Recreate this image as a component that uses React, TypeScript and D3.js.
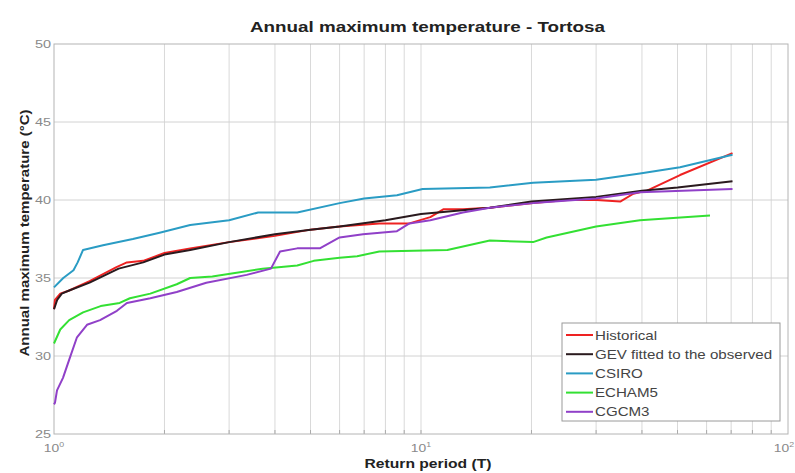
import * as d3 from "d3";

type Pt = [number, number];

// [return period T, temperature °C]
const historical: Pt[] = [
  [1.0, 33.0], [1.006, 33.6], [1.04, 34.0], [1.1, 34.2], [1.25, 34.8], [1.48, 35.7],
  [1.58, 36.0], [1.75, 36.1], [2.0, 36.6], [2.35, 36.9], [3.0, 37.3], [4.0, 37.7],
  [5.0, 38.1], [6.0, 38.3], [7.7, 38.5], [9.3, 38.5], [10.6, 38.9], [11.5, 39.4],
  [13.0, 39.4], [15.4, 39.5], [20.2, 39.8], [25, 40.0], [30.1, 40.0], [34.9, 39.9],
  [37.9, 40.4], [41.3, 40.6], [50.8, 41.6], [70.6, 43.0],
];

const gevFitted: Pt[] = [
  [1.0, 33.0], [1.02, 33.6], [1.05, 34.0], [1.1, 34.2], [1.25, 34.7], [1.5, 35.6],
  [1.75, 36.0], [2.0, 36.5], [2.35, 36.8], [3.0, 37.3], [4.0, 37.8], [5.0, 38.1],
  [6.0, 38.3], [8.0, 38.7], [10, 39.1], [15.4, 39.5], [20, 39.9], [30, 40.2],
  [40, 40.6], [50, 40.8], [70.6, 41.2],
];

const csiro: Pt[] = [
  [1.0, 34.4], [1.06, 35.0], [1.13, 35.5], [1.16, 36.0], [1.2, 36.8], [1.36, 37.1],
  [1.64, 37.5], [1.94, 37.9], [2.35, 38.4], [3.0, 38.7], [3.6, 39.2], [4.6, 39.2],
  [6.0, 39.8], [7.0, 40.1], [8.6, 40.3], [10.1, 40.7], [15.4, 40.8], [20.2, 41.1],
  [30, 41.3], [39.5, 41.7], [50.8, 42.1], [70.6, 42.9],
];

const echam5: Pt[] = [
  [1.0, 30.8], [1.04, 31.7], [1.1, 32.3], [1.2, 32.8], [1.34, 33.2], [1.51, 33.4],
  [1.61, 33.7], [1.83, 34.0], [2.16, 34.6], [2.35, 35.0], [2.7, 35.1], [3.7, 35.6],
  [4.6, 35.8], [5.1, 36.1], [6.0, 36.3], [6.7, 36.4], [7.7, 36.7], [11.8, 36.8],
  [15.4, 37.4], [20.2, 37.3], [22, 37.6], [30, 38.3], [39.5, 38.7], [61.3, 39.0],
];

const cgcm3: Pt[] = [
  [1.0, 26.9], [1.006, 27.0], [1.019, 27.8], [1.058, 28.6], [1.105, 29.9], [1.155, 31.2],
  [1.23, 32.0], [1.335, 32.3], [1.484, 32.9], [1.58, 33.4], [1.83, 33.7], [2.16, 34.1],
  [2.6, 34.7], [3.35, 35.2], [3.9, 35.6], [4.13, 36.7], [4.6, 36.9], [5.3, 36.9],
  [6.0, 37.6], [6.95, 37.8], [8.6, 38.0], [9.3, 38.5], [10.6, 38.7], [13.0, 39.2],
  [15.4, 39.5], [20.2, 39.8], [30, 40.1], [39.5, 40.5], [70.6, 40.7],
];

const seriesNames = ["Historical", "GEV fitted to the observed", "CSIRO", "ECHAM5", "CGCM3"];
const seriesData = [historical, gevFitted, csiro, echam5, cgcm3];
const seriesColors = ["#ee2222", "#2a1a1e", "#2a9cc4", "#33e033", "#9040c8"];

const yTicks = [25, 30, 35, 40, 45, 50];
const xDecades = [0, 1, 2];

export default function App() {
  const width = 795;
  const height = 473;
  const left = 54;
  const right = 788;
  const top = 44;
  const bottom = 434;

  const x = d3.scaleLog().domain([1, 100]).range([left, right]);
  const y = d3.scaleLinear().domain([25, 50]).range([bottom, top]);

  const line = d3
    .line<Pt>()
    .x((d) => x(d[0]))
    .y((d) => y(d[1]));

  const minorTicks = x.ticks().filter((t) => t > 1 && t < 100);

  const font = "'Liberation Sans', Arial, sans-serif";
  const legendX = 562;
  const legendY = 323;
  const rowH = 19.2;
  // the source picture is stretched sideways a little
  const sx = 1.26;

  return (
    <svg
      width={width}
      height={height}
      style={{ position: "absolute", left: 0, top: 0, background: "#fff" }}
      fontFamily={font}
    >
      <g>
        {minorTicks.map((t) => (
          <line key={`vx${t}`} x1={x(t)} x2={x(t)} y1={top} y2={bottom} stroke="#d9d9d9" strokeWidth={1} />
        ))}
        {yTicks.slice(1, -1).map((t) => (
          <line key={`hy${t}`} x1={left} x2={right} y1={y(t)} y2={y(t)} stroke="#d2d2d2" strokeWidth={1} />
        ))}
        {minorTicks.map((t) => (
          <line key={`tk${t}`} x1={x(t)} x2={x(t)} y1={bottom} y2={bottom - 4} stroke="#aaa" strokeWidth={1} />
        ))}
      </g>
      <rect x={left} y={top} width={right - left} height={bottom - top} fill="none" stroke="#b4b4b4" strokeWidth={1} />

      {yTicks.map((t) => (
        <text
          key={`yt${t}`}
          transform={`translate(${left - 3},${y(t) + 4}) scale(${sx},1)`}
          textAnchor="end"
          fontSize={11.5}
          fill="#8a8a8a"
        >
          {t}
        </text>
      ))}
      {xDecades.map((e) => {
        const px = Math.min(x(Math.pow(10, e)), width - 11);
        return (
          <text
            key={`xt${e}`}
            transform={`translate(${px},452) scale(${sx},1)`}
            textAnchor="middle"
            fontSize={11}
            fill="#8a8a8a"
          >
            10
            <tspan dy={-5} fontSize={7}>
              {e}
            </tspan>
          </text>
        );
      })}

      {seriesData.map((data, i) => (
        <path
          key={seriesNames[i]}
          d={line(data) ?? ""}
          fill="none"
          stroke={seriesColors[i]}
          strokeWidth={2}
          strokeLinejoin="round"
        />
      ))}

      <text
        x={427.5}
        y={32}
        textAnchor="middle"
        fontSize={15}
        fontWeight="bold"
        fill="#222"
        textLength={355}
        lengthAdjust="spacingAndGlyphs"
      >
        Annual maximum temperature - Tortosa
      </text>
      <text
        x={428}
        y={468}
        textAnchor="middle"
        fontSize={13}
        fontWeight="bold"
        fill="#222"
        textLength={127}
        lengthAdjust="spacingAndGlyphs"
      >
        Return period (T)
      </text>
      <text
        transform="translate(29,233) rotate(-90)"
        textAnchor="middle"
        fontSize={13}
        fontWeight="bold"
        fill="#222"
        textLength={247}
        lengthAdjust="spacingAndGlyphs"
      >
        Annual maximum temperature (°C)
      </text>

      <g>
        <rect x={legendX} y={legendY} width={218} height={98} fill="#fff" stroke="#9a9a9a" strokeWidth={1} />
        {seriesNames.map((name, i) => {
          const ry = legendY + 12 + i * rowH;
          return (
            <g key={`lg${name}`}>
              <line x1={legendX + 4} x2={legendX + 31} y1={ry} y2={ry} stroke={seriesColors[i]} strokeWidth={2} />
              <text
                transform={`translate(${legendX + 33},${ry + 4.5}) scale(${sx},1)`}
                fontSize={12}
                fill="#444"
              >
                {name}
              </text>
            </g>
          );
        })}
      </g>
    </svg>
  );
}
